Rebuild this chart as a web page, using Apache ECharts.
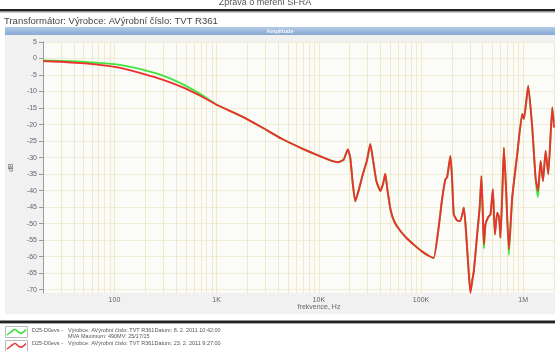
<!DOCTYPE html>
<html><head><meta charset="utf-8">
<script src="https://cdn.jsdelivr.net/npm/echarts@6/dist/echarts.min.js"></script>
<style>html,body{margin:0;padding:0;background:#fff}#c{width:555px;height:351px}</style>
</head><body><div id="c"></div>
<script>
// Frequency points (Hz)
const freq = [20,30,47,75,117,184,290,454,713,1000,1760,2760,4340,6800,10500,13400,15500,17500,19200,20300,21500,22700,24500,27000,29500,31900,34000,36500,39900,42500,44700,47000,50500,55000,62000,72900,86000,102000,120000,133000,149000,160000,173000,180000,193700,201000,209000,225000,242500,262300,275000,293700,304300,318000,328600,354100,375000,390000,403000,412000,427000,455000,477900,504600,528000,556000,580000,599000,625000,647000,680000,724000,780000,873000,977000,1016000,1119000,1225000,1320000,1394000,1479000,1561000,1656000,1759000,1924000,2000000];
// Amplitude, dB – first measurement (green)
const ampGreen = [-0.6,-0.7,-1.0,-1.4,-2.0,-3.3,-5.0,-7.6,-11.0,-14.0,-17.5,-20.8,-24.3,-27.2,-29.7,-31.0,-31.4,-30.6,-27.5,-30,-38,-43.2,-40,-35,-31,-25.9,-31,-37,-40.1,-38,-34.9,-40,-46,-49.5,-52,-54.5,-56.5,-58.4,-59.8,-60.4,-51,-43,-36.6,-36,-29.5,-36,-47.2,-49,-49.2,-45.2,-52,-65.4,-70.5,-67,-64.4,-53.3,-45,-35.6,-48,-57.5,-50.2,-48,-47.2,-39.6,-53.3,-46.7,-48,-54.3,-40,-27,-40,-59.5,-42.1,-29,-16.8,-18.3,-8.2,-20.9,-36.1,-42,-31,-37.1,-28,-35,-14.8,-19];
// Amplitude, dB – second measurement (red)
const ampRed = [-0.8,-1.0,-1.4,-2.0,-2.9,-4.5,-6.3,-8.6,-11.5,-14.0,-17.5,-20.8,-24.3,-27.2,-29.7,-31.0,-31.4,-30.6,-27.5,-30,-38,-43.2,-40,-35,-31,-25.9,-31,-37,-40.1,-38,-34.9,-40,-46,-49.5,-52,-54.5,-56.5,-58.4,-59.8,-60.4,-51,-43,-36.6,-36,-29.5,-36,-47.2,-49,-49.2,-45.2,-52,-65.4,-71,-67,-64.4,-53.3,-45,-35.6,-48,-56.3,-50.2,-48,-47.2,-39.6,-53.3,-46.7,-48,-54.3,-40,-27,-40,-57.8,-42.1,-29,-16.8,-18.3,-8.2,-20.9,-36.1,-40.1,-31,-37.1,-28,-35,-14.8,-20.9];
const yTickValues = [5,0,-5,-10,-15,-20,-25,-30,-35,-40,-45,-50,-55,-60,-65,-70];
const xTickValues = [100,1000,10000,100000,1000000];
const xTickLabels = ['100','1K','10K','100K','1M'];
const xGridValues = [];
for (let e = 1; e <= 6; e++) for (let m = 1; m <= 9; m++) { const v = m * Math.pow(10, e); if (v >= 20 && v <= 2e6) xGridValues.push(v); }

const F = 'Liberation Sans, Arial, sans-serif';
const pair = (xs, ys) => xs.map((x, i) => [x, ys[i]]);

const chart = echarts.init(document.getElementById('c'), null, {renderer: 'canvas'});
chart.setOption({
  animation: false,
  backgroundColor: '#ffffff',
  graphic: [
    {type: 'rect', z: -10, shape: {x: 5, y: 35, width: 550, height: 279}, style: {fill: '#f1f1f1'}},
    {type: 'text', x: 265, y: 3, style: {text: 'Zpráva o měření SFRA', font: '9px ' + F, fill: '#555', align: 'center', verticalAlign: 'middle'}},
    {type: 'rect', shape: {x: 0, y: 9, width: 555, height: 2.5}, style: {fill: '#222'}},
    {type: 'rect', shape: {x: 0, y: 11.5, width: 555, height: 1}, style: {fill: '#999'}},
    {type: 'text', x: 4, y: 21, style: {text: 'Transformátor: Výrobce: AVýrobní číslo: TVT R361', font: '9.5px ' + F, fill: '#444', verticalAlign: 'middle'}},
    {type: 'rect', shape: {x: 5, y: 27, width: 550, height: 8}, style: {fill: new echarts.graphic.LinearGradient(0, 0, 0, 1, [{offset: 0, color: '#b3cbe6'}, {offset: 1, color: '#86a8d2'}])}},
    {type: 'text', x: 280, y: 31, style: {text: 'Amplitude', font: 'bold 5.5px ' + F, fill: '#f4f7fb', align: 'center', verticalAlign: 'middle'}},
    {type: 'text', x: 319, y: 307, style: {text: 'frekvence, Hz', font: '7px ' + F, fill: '#666', align: 'center', verticalAlign: 'middle'}},
    {type: 'rect', shape: {x: 0, y: 320.5, width: 555, height: 2.5}, style: {fill: '#222'}},
    {type: 'rect', shape: {x: 0, y: 323, width: 555, height: 1}, style: {fill: '#aaa'}},
    {type: 'rect', shape: {x: 5.5, y: 326.5, width: 22, height: 11}, style: {fill: '#fff', stroke: '#bbb', lineWidth: 1}},
    {type: 'polyline', shape: {points: [[7, 335], [11, 332], [15, 329.5], [19, 332.5], [22, 333], [26, 329.5]], smooth: 0.4}, style: {stroke: '#33dd33', lineWidth: 1.5, fill: null}},
    {type: 'rect', shape: {x: 5.5, y: 340.5, width: 22, height: 11}, style: {fill: '#fff', stroke: '#bbb', lineWidth: 1}},
    {type: 'polyline', shape: {points: [[7, 349], [11, 346], [15, 343.5], [19, 346.5], [22, 347], [26, 343.5]], smooth: 0.4}, style: {stroke: '#ee3333', lineWidth: 1.5, fill: null}},
    {type: 'text', x: 32, y: 330, style: {text: 'D25-D0evs -', font: '5.5px ' + F, fill: '#555', verticalAlign: 'middle'}},
    {type: 'text', x: 68, y: 330, style: {text: 'Výrobce: AVýrobní číslo: TVT R361Datum: 8. 2. 2011 10:42:00', font: '5.5px ' + F, fill: '#555', verticalAlign: 'middle'}},
    {type: 'text', x: 68, y: 336, style: {text: 'MVA Maximum: 490MV: 25/17/15', font: '5.5px ' + F, fill: '#555', verticalAlign: 'middle'}},
    {type: 'text', x: 32, y: 343, style: {text: 'D25-D0evs -', font: '5.5px ' + F, fill: '#555', verticalAlign: 'middle'}},
    {type: 'text', x: 68, y: 343, style: {text: 'Výrobce: AVýrobní číslo: TVT R361Datum: 23. 2. 2011 9:27:00', font: '5.5px ' + F, fill: '#555', verticalAlign: 'middle'}}
  ],
  grid: {left: 42, right: 1, top: 42, bottom: 58, show: true, backgroundColor: '#fbfbf7', borderWidth: 0},
  xAxis: {
    type: 'log', logBase: 10, min: 20, max: 2000000,
    axisLine: {show: false},
    axisTick: {show: false, customValues: xGridValues},
    axisLabel: {
      customValues: xTickValues, fontSize: 7, color: '#666', fontFamily: F, margin: 4,
      formatter: function (v) {
        for (let i = 0; i < xTickValues.length; i++) if (Math.abs(Math.log10(v) - Math.log10(xTickValues[i])) < 1e-6) return xTickLabels[i];
        return '';
      }
    },
    splitLine: {show: true, lineStyle: {color: '#f0eacb', width: 1}}
  },
  yAxis: {
    type: 'value', min: -71, max: 5, interval: 1,
    axisLine: {show: true, lineStyle: {color: '#9a9a9a', width: 1}},
    axisTick: {show: true, customValues: yTickValues, length: 4, inside: false, lineStyle: {color: '#9a9a9a'}},
    axisLabel: {customValues: yTickValues, fontSize: 7, color: '#666', fontFamily: F, margin: 6},
    splitLine: {show: true, lineStyle: {color: '#f1edd8', width: 1}},
    name: 'dB', nameLocation: 'middle', nameRotate: 90, nameGap: 28,
    nameTextStyle: {fontSize: 7, color: '#666', fontFamily: F}
  },
  series: [
    {type: 'line', data: pair(freq, ampGreen), showSymbol: false, smooth: 0.15, lineStyle: {color: '#3ee63e', width: 1.9}, z: 2},
    {type: 'line', data: pair(freq, ampRed), showSymbol: false, smooth: 0.15, lineStyle: {color: '#ee2f2f', width: 1.9}, z: 3}
  ]
});
</script></body></html>
